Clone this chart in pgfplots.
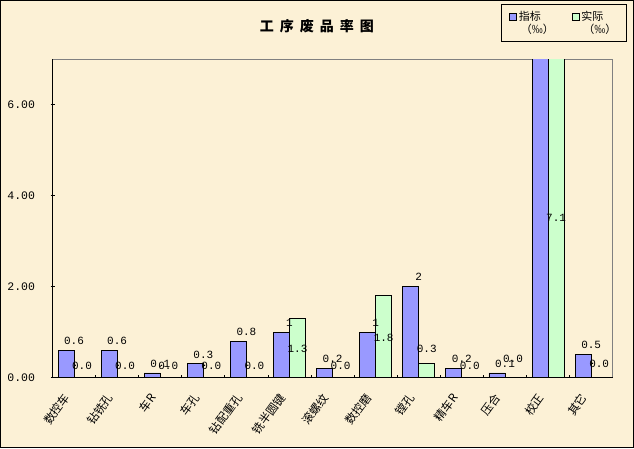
\documentclass[border=0pt]{standalone}
\usepackage{fontspec}
\setmainfont{Noto Sans CJK SC}
\newfontfamily\mono{Liberation Mono}
\usepackage{pgfplots}
\pgfplotsset{compat=1.18}
\usepackage{pgfplotstable}
\definecolor{bg}{RGB}{252,241,214}
\definecolor{bblue}{RGB}{153,153,255}
\definecolor{bgreen}{RGB}{204,255,204}

\pgfplotstableread{
x y lab
0 0.6 0.6
1 0.6 0.6
2 0.1 0.1
3 0.3 0.3
4 0.8 0.8
5 1.0 1
6 0.2 0.2
7 1.0 1
8 2.0 2
9 0.2 0.2
10 0.1 0.1
11 7.5 {}
12 0.5 0.5
}\bluedata

\pgfplotstableread{
x y
0 0
1 0
2 0
3 0
4 0
5 1.3
6 0
7 1.8
8 0.3
9 0
10 0
11 7.1
12 0
}\greendata

% positions of the labels of the green series, as Excel placed them
\pgfplotstableread{
x y lab
0 0.25 0.0
1 0.25 0.0
2 0.25 0.0
3 0.25 0.0
4 0.25 0.0
5 0.63 1.3
6 0.25 0.0
7 0.87 1.8
8 0.63 0.3
9 0.25 0.0
10 0.40 0.0
11 3.52 7.1
12 0.30 0.0
}\greenlab

\begin{document}
\begin{tikzpicture}
\fill[bg] (0pt,0pt) rectangle (634pt,448pt);
\draw[black, line width=1pt] (0.5pt,0.5pt) rectangle (633.5pt,447.5pt);
\begin{axis}[
  at={(52.5pt,70.5pt)}, anchor=south west,
  scale only axis, width=560.2pt, height=318.2pt,
  xmin=-0.5, xmax=12.5, ymin=0, ymax=7,
  axis line style={draw=gray, line width=0.8pt},
  xtick={0,...,12},
  xticklabels={数控车,钻铣孔,车R,车孔,钻配重孔,铣半圆键,滚螺纹,数控磨,镗孔,精车R,压合,校正,其它},
  xticklabel style={xshift=-5pt, yshift=-15pt, rotate=54, anchor=east, font=\fontsize{11.5}{11.5}\selectfont},
  major x tick style={draw=none},
  minor x tick num=1,
  minor tick length=3pt,
  xtick align=inside,
  xtick pos=bottom, ytick pos=left,
  ytick={0,2,4,6},
  ytick align=center,
  major tick length=4pt,
  tick style={black, line width=0.8pt},
  yticklabel style={font=\mono\fontsize{11.5}{11.5}\selectfont, xshift=-12pt, /pgf/number format/.cd, fixed, fixed zerofill, precision=2, assume math mode=true},
  every node near coord/.append style={font=\mono\fontsize{11}{11}\selectfont},
  title={工\hspace{6pt}序\hspace{6pt}废\hspace{6pt}品\hspace{6pt}率\hspace{6pt}图},
  title style={at={(0.472,1.086)}, anchor=center, font=\bfseries\fontsize{14}{14}\selectfont},
  legend style={at={(1.0255,1.1738)}, anchor=north east, draw=black, line width=1pt, fill=none,
    font=\fontsize{11}{15}\selectfont, inner xsep=8pt, inner ysep=4.5pt,
    /tikz/every even column/.append style={column sep=16pt}},
  legend columns=2,
  legend cell align=left,
  after end axis/.code={
    \draw[black, line width=1.2pt] (rel axis cs:0,1) -- (rel axis cs:0,0) -- (rel axis cs:1,0);
  },
]
\addlegendimage{legend image code/.code={\draw[fill=bblue, draw=black, line width=0.6pt] (0pt,3pt) rectangle (7pt,10pt);}}
\addlegendentry{\shortstack[l]{指标\\\hspace{2pt}（‰）}}
\addlegendimage{legend image code/.code={\draw[fill=bgreen, draw=black, line width=0.6pt] (0pt,3pt) rectangle (7pt,10pt);}}
\addlegendentry{\shortstack[l]{实际\\\hspace{2pt}（‰）}}
\addplot[forget plot, ybar, bar width=16pt, bar shift=8pt, fill=bgreen, draw=black, line width=0.8pt]
  table[x=x, y=y] {\greendata};
\addplot[forget plot, draw=none, mark=none, nodes near coords, point meta=explicit symbolic,
  every node near coord/.append style={anchor=center, xshift=8pt}]
  table[x=x, y=y, meta=lab] {\greenlab};
\addplot[forget plot, ybar, bar width=16pt, bar shift=-8pt, fill=bblue, draw=black, line width=0.8pt,
  nodes near coords, point meta=explicit symbolic,
  every node near coord/.append style={anchor=south, yshift=2pt}]
  table[x=x, y=y, meta=lab] {\bluedata};
\end{axis}
\end{tikzpicture}
\end{document}
